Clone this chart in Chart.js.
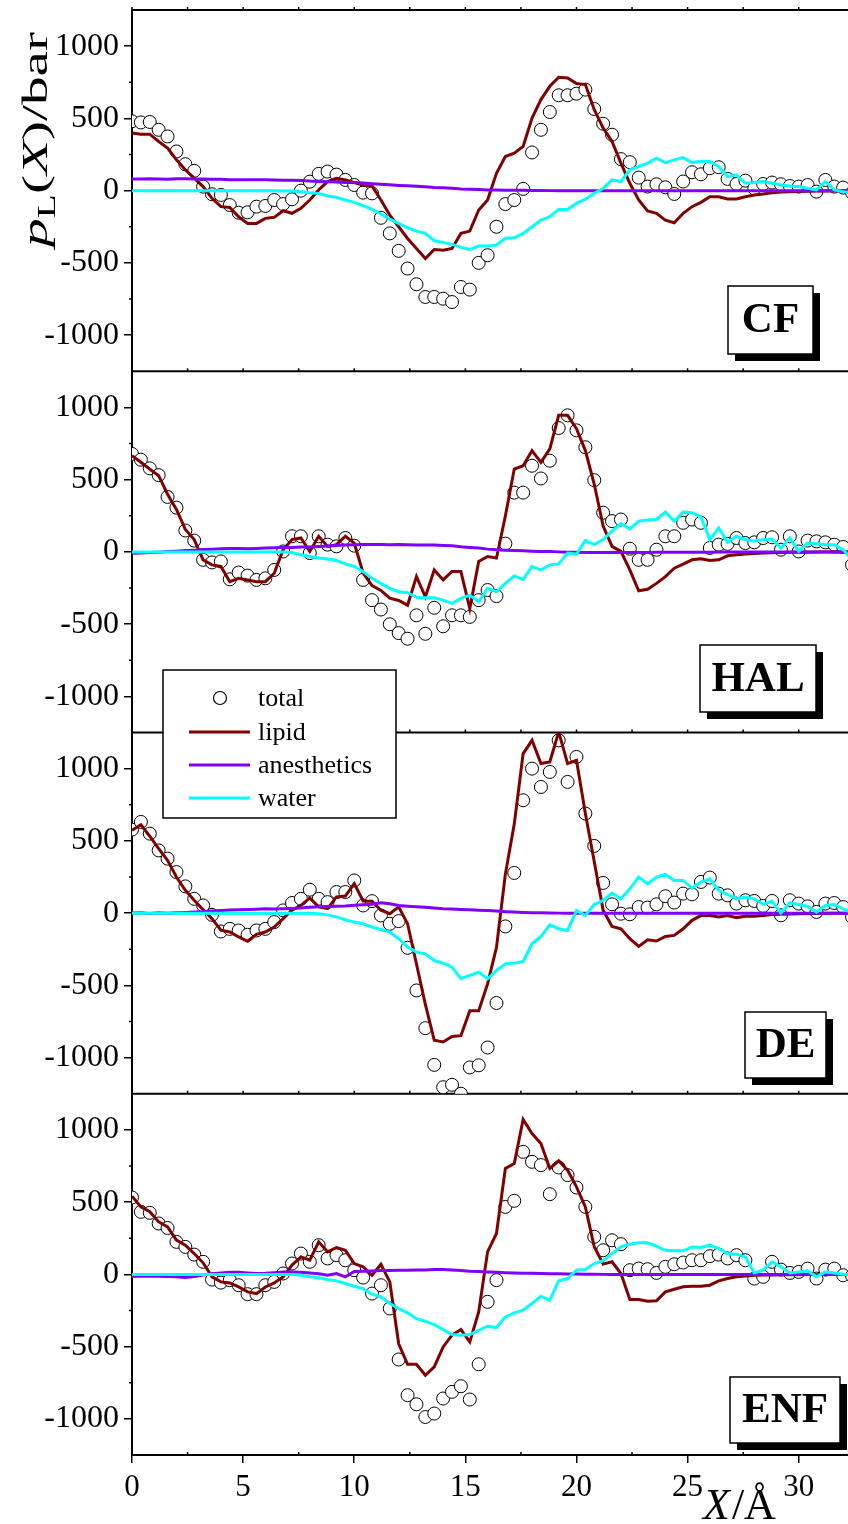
<!DOCTYPE html>
<html>
<head>
<meta charset="utf-8">
<title>Lateral pressure profiles</title>
<script src="https://cdn.jsdelivr.net/npm/chart.js@4.4.1/dist/chart.umd.min.js"></script>
<style>
html, body { margin: 0; padding: 0; background: #fff; overflow: hidden; }
#chart { display: block; }
</style>
</head>
<body>
<!-- a little wider than the page: Chart.js keeps room for the circle radius on the right -->
<canvas id="chart" width="856" height="1524"></canvas>
<script>
var serif = "'Liberation Serif', 'Times New Roman', serif";

// distance from bilayer centre, in Angstrom
var xs = [0,0.4,0.8,1.2,1.6,2,2.4,2.8,3.2,3.6,
  4,4.4,4.8,5.2,5.6,6,6.4,6.8,7.2,7.6,
  8,8.4,8.8,9.2,9.6,10,10.4,10.8,11.2,11.6,
  12,12.4,12.8,13.2,13.6,14,14.4,14.8,15.2,15.6,
  16,16.4,16.8,17.2,17.6,18,18.4,18.8,19.2,19.6,
  20,20.4,20.8,21.2,21.6,22,22.4,22.8,23.2,23.6,
  24,24.4,24.8,25.2,25.6,26,26.4,26.8,27.2,27.6,
  28,28.4,28.8,29.2,29.6,30,30.4,30.8,31.2,31.6,
  32,32.4];

var xTicks = [0,5,10,15,20,25,30];
var xMinor = [2.5,7.5,12.5,17.5,22.5,27.5];
var yTicks = [-1000,-500,0,500,1000];
var yMinor = [-750,-250,250,750];

var panels = ['CF','HAL','DE','ENF'];
var seriesNames = ['total','lipid','anesthetics','water'];

// CF
var cfTotal = [480,472,475,421,375,271,183,137,28,-25,
  -30,-100,-153,-150,-111,-106,-65,-93,-60,0,
  62,116,132,111,74,39,-14,-19,-188,-296,
  -417,-539,-648,-736,-736,-748,-771,-667,-685,-500,
  -447,-250,-93,-65,12,264,421,544,660,660,
  671,699,565,463,387,218,197,90,28,44,
  23,-23,63,127,113,155,162,81,46,69,
  16,46,56,44,32,28,39,-7,74,28,
  21,-15];
var cfLipid = [398,391,391,340,294,213,144,86,28,-53,
  -111,-116,-181,-227,-227,-192,-185,-139,-157,-123,
  -65,5,62,86,74,56,39,32,-65,-169,
  -250,-331,-400,-470,-407,-412,-400,-296,-280,-134,
  -65,120,236,259,306,502,630,722,785,780,
  741,734,560,433,340,190,51,-65,-141,-157,
  -204,-222,-157,-111,-81,-42,-42,-58,-58,-42,
  -30,-23,-14,-10,-8,-6,-4,-3,-2,-1,
  0,0];
var cfAnes = [80,80,82,80,78,82,82,80,80,78,
  78,76,76,76,76,76,74,72,72,70,
  66,64,62,60,56,56,52,48,44,40,
  36,33,30,26,22,20,16,12,10,7,
  5,4,3,2,2,1,1,0,0,0,
  0,0,0,0,0,0,0,0,0,0,
  0,0,0,0,0,0,0,0,0,0,
  0,0,0,0,0,0,0,0,0,0,
  0,0];
var cfWater = [0,0,0,0,0,0,0,0,0,0,
  0,0,0,0,0,0,0,-2,-2,-7,
  -14,-19,-37,-46,-65,-81,-104,-130,-162,-197,
  -227,-257,-280,-296,-347,-358,-372,-393,-407,-384,
  -384,-376,-330,-326,-296,-250,-204,-181,-130,-130,
  -88,-60,-19,16,74,63,143,167,190,225,
  194,213,229,194,204,201,167,97,109,51,
  56,63,51,39,32,28,16,5,63,5,
  -7,-15];

// HAL
var halTotal = [678,638,578,531,380,306,148,78,-55,-73,
  -66,-190,-143,-164,-194,-183,-125,3,108,108,
  -8,108,50,38,96,43,-194,-334,-399,-501,
  -562,-601,-439,-567,-387,-515,-439,-439,-450,-334,
  -264,-306,57,410,410,596,508,631,857,945,
  841,724,496,271,213,224,22,-55,-55,15,
  108,108,201,224,201,27,50,55,96,61,
  66,96,101,15,108,3,78,73,66,50,
  34,-90];
var halLipid = [666,620,573,527,399,294,155,85,-55,-90,
  -101,-206,-183,-194,-206,-206,-148,15,85,96,
  3,108,38,50,108,61,-146,-234,-267,-320,
  -336,-369,-171,-311,-125,-194,-136,-136,-392,-66,
  -32,-43,248,573,596,701,620,713,945,945,
  852,701,468,178,38,3,-125,-269,-259,-218,
  -171,-113,-85,-55,-48,-59,-55,-27,-20,-15,
  -11,-8,-6,-4,-3,-2,-2,-1,0,0,
  0,0];
var halAnes = [-9,-7,-5,-2,2,5,9,12,16,19,
  21,23,23,21,23,26,28,30,30,33,
  33,37,40,44,47,49,51,51,51,49,
  51,49,47,47,47,44,42,35,30,26,
  19,14,12,9,7,5,3,2,0,-2,
  -3,-4,-5,-5,-5,-5,-5,-4,-4,-3,
  -3,-3,-2,-2,-2,-2,-1,-1,-1,0,
  0,0,0,0,0,0,0,0,0,0,
  0,0];
var halWater = [0,0,0,0,0,0,0,0,0,0,
  0,0,0,0,0,0,0,0,-4,-20,
  -32,-43,-50,-59,-83,-101,-136,-183,-218,-252,
  -276,-283,-315,-318,-318,-334,-357,-322,-299,-346,
  -252,-276,-218,-166,-190,-101,-125,-90,-83,-8,
  -15,80,50,85,143,196,159,213,220,224,
  275,213,275,271,243,85,166,66,108,85,
  73,85,89,27,96,3,61,57,50,50,
  15,-55];

// DE
var deTotal = [578,631,550,434,377,284,185,99,53,-12,
  -127,-109,-120,-150,-120,-109,-62,19,70,99,
  162,99,76,146,146,226,53,83,-16,-74,
  -55,-240,-535,-796,-1050,-1205,-1188,-1250,-1068,-1053,
  -930,-622,-92,278,781,1000,873,977,1196,908,
  1081,689,465,209,61,-4,-8,42,38,61,
  117,73,135,130,216,246,135,123,66,89,
  84,50,84,-15,89,66,47,8,66,70,
  42,-27];
var deLipid = [573,612,532,446,365,250,158,89,24,-38,
  -118,-130,-165,-195,-147,-131,-96,-38,20,54,
  105,43,31,112,118,204,84,82,20,-4,
  43,-73,-352,-632,-880,-892,-854,-848,-675,-675,
  -490,-237,270,616,1104,1196,1035,1046,1254,1035,
  1058,689,355,20,-92,-108,-177,-230,-184,-193,
  -161,-154,-108,-50,-17,-17,-27,-17,-31,-22,
  -22,-17,-10,-8,-6,-4,-3,-2,-1,0,
  0,0];
var deAnes = [0,2,-2,2,0,2,5,7,10,14,
  18,21,23,25,27,30,28,30,32,35,
  40,44,46,48,50,54,58,62,72,65,
  53,48,44,40,35,30,28,25,23,20,
  18,14,10,7,5,3,2,1,0,0,
  0,0,0,0,0,0,0,0,0,0,
  0,0,0,0,0,0,0,0,0,0,
  0,0,0,0,0,0,0,0,0,0,
  0,0];
var deWater = [0,0,0,0,0,0,0,0,0,0,
  0,0,0,0,0,0,0,0,0,0,
  0,-5,-12,-26,-46,-62,-74,-97,-113,-131,
  -177,-235,-270,-282,-328,-346,-374,-454,-431,-408,
  -454,-397,-351,-346,-335,-212,-161,-81,-108,-120,
  18,-16,60,88,138,99,168,249,203,249,
  268,226,226,173,215,238,157,129,99,111,
  99,60,83,0,72,60,46,7,53,60,
  30,0];

// ENF
var enfTotal = [532,433,426,352,321,225,190,137,87,-36,
  -57,-40,-75,-137,-137,-75,-52,6,75,144,
  87,202,110,133,98,29,-22,-133,-75,-236,
  -589,-836,-899,-987,-963,-859,-813,-774,-866,-622,
  -190,-40,467,509,848,779,756,555,740,687,
  601,467,260,167,236,209,29,40,36,10,
  52,70,82,98,98,126,137,110,133,98,
  -29,-17,87,33,10,17,40,-29,33,40,
  -6,-10];
var enfLipid = [541,467,433,363,329,237,202,144,80,-17,
  -52,-59,-87,-121,-133,-87,-59,-17,64,121,
  98,225,156,186,167,75,52,-6,70,-52,
  -480,-622,-622,-698,-640,-502,-421,-382,-467,-260,
  156,283,733,767,1072,975,906,733,786,721,
  606,467,191,71,87,6,-174,-174,-186,-183,
  -121,-103,-86,-82,-82,-75,-45,-29,-17,-12,
  -6,-5,-4,-3,-2,-2,-1,-1,0,0,
  0,0];
var enfAnes = [-13,-13,-11,-13,-15,-17,-22,-15,-4,4,
  10,14,14,10,6,8,12,17,17,14,
  10,4,-6,6,-17,20,22,24,26,27,
  28,29,30,31,33,33,30,26,22,20,
  17,14,12,10,8,7,6,5,4,3,
  2,1,1,0,0,0,0,0,0,0,
  0,0,0,0,0,0,0,0,0,0,
  0,0,0,0,0,0,0,0,0,0,
  0,0];
var enfWater = [0,0,0,0,0,0,0,0,0,0,
  0,0,0,0,0,0,0,0,0,-6,
  -17,-24,-36,-45,-63,-82,-98,-137,-156,-202,
  -236,-266,-306,-324,-347,-382,-416,-421,-416,-387,
  -359,-368,-294,-266,-248,-202,-151,-179,-45,-29,
  29,33,75,94,144,190,209,218,218,195,
  167,163,163,190,186,202,179,144,140,121,
  10,29,87,52,10,17,24,-17,17,10,
  1,-5];

var panelSeries = {
  CF: [cfTotal, cfLipid, cfAnes, cfWater],
  HAL: [halTotal, halLipid, halAnes, halWater],
  DE: [deTotal, deLipid, deAnes, deWater],
  ENF: [enfTotal, enfLipid, enfAnes, enfWater]
};

var lineColors = ['#000000', '#800000', '#8000ff', '#00ffff'];

// boxes for the panel names [left, top, right, bottom]
var nameBoxes = {
  CF: [728, 286, 813, 354],
  HAL: [700, 645, 816, 712],
  DE: [745, 1012, 826, 1078],
  ENF: [730, 1377, 840, 1443]
};
var legendBox = [163, 670, 396, 818];

function toPoints(ys) {
  return xs.map(function (x, i) { return { x: x, y: ys[i] }; });
}

var datasets = [];
panels.forEach(function (p) {
  var s = panelSeries[p];
  datasets.push({
    label: seriesNames[0],
    data: toPoints(s[0]),
    yAxisID: 'y' + p,
    showLine: false,
    pointRadius: 6.5,
    pointHoverRadius: 6.5,
    pointBackgroundColor: '#fff',
    pointBorderColor: '#000',
    pointBorderWidth: 1,
    order: 3
  });
  for (var k = 1; k < 4; k++) {
    datasets.push({
      label: seriesNames[k],
      data: toPoints(s[k]),
      yAxisID: 'y' + p,
      borderColor: lineColors[k],
      borderWidth: 3,
      pointRadius: 0,
      tension: 0,
      fill: false,
      order: 3 - k
    });
  }
});

function yScale() {
  return {
    type: 'linear',
    position: 'left',
    stack: 'panels',
    stackWeight: 1,
    min: -1250,
    max: 1250,
    afterBuildTicks: function (s) { s.ticks = yTicks.map(function (v) { return { value: v }; }); },
    afterFit: function (s) { s.width = 132; s.paddingTop = 0; s.paddingBottom = 0; },
    ticks: {
      color: '#000',
      font: { family: serif, size: 32 },
      padding: 5,
      autoSkip: false,
      callback: function (v) { return String(v); }
    },
    grid: { drawOnChartArea: false, tickLength: 8, color: '#000', lineWidth: 1.5 },
    border: { color: '#000', width: 2 }
  };
}

var scales = {
  x: {
    type: 'linear',
    position: 'bottom',
    min: 0,
    max: 32.24,
    afterBuildTicks: function (s) { s.ticks = xTicks.map(function (v) { return { value: v }; }); },
    afterFit: function (s) { s.height = 69; s.paddingLeft = 0; s.paddingRight = 0; },
    ticks: { color: '#000', font: { family: serif, size: 31 }, padding: 6, maxRotation: 0, autoSkip: false },
    grid: { drawOnChartArea: false, tickLength: 8, color: '#000', lineWidth: 1.5 },
    border: { color: '#000', width: 2 }
  }
};
// stacked axes: the last one added ends up on top
for (var i = panels.length - 1; i >= 0; i--) {
  scales['y' + panels[i]] = yScale();
}

function seg(ctx, x1, y1, x2, y2) {
  ctx.beginPath();
  ctx.moveTo(x1, y1);
  ctx.lineTo(x2, y2);
  ctx.stroke();
}

var decor = {
  id: 'decor',
  beforeDatasetsDraw: function (chart) {
    var ctx = chart.ctx, a = chart.chartArea, sx = chart.scales.x;
    ctx.save();
    ctx.strokeStyle = '#000';
    panels.forEach(function (p) {
      var s = chart.scales['y' + p];
      ctx.lineWidth = 2;
      seg(ctx, a.left, s.top, a.right, s.top);
      ctx.lineWidth = 1.5;
      yMinor.forEach(function (v) {
        var y = s.getPixelForValue(v);
        seg(ctx, a.left - 3, y, a.left, y);
      });
      xTicks.concat(xMinor).forEach(function (v) {
        var x = sx.getPixelForValue(v);
        seg(ctx, x, s.top - 3, x, s.top);
      });
    });
    xMinor.forEach(function (v) {
      var x = sx.getPixelForValue(v);
      seg(ctx, x, a.bottom - 3, x, a.bottom);
    });
    ctx.restore();
  },
  afterDraw: function (chart) {
    var ctx = chart.ctx;
    ctx.save();

    // panel names with drop shadow
    panels.forEach(function (p) {
      var b = nameBoxes[p];
      var w = b[2] - b[0], h = b[3] - b[1];
      ctx.fillStyle = '#000';
      ctx.fillRect(b[0] + 7, b[1] + 7, w, h);
      ctx.fillStyle = '#fff';
      ctx.fillRect(b[0], b[1], w, h);
      ctx.strokeStyle = '#000';
      ctx.lineWidth = 1.5;
      ctx.strokeRect(b[0], b[1], w, h);
      ctx.fillStyle = '#000';
      ctx.font = 'bold 43px ' + serif;
      ctx.textAlign = 'center';
      ctx.textBaseline = 'middle';
      ctx.fillText(p, b[0] + w / 2, b[1] + h / 2 + 1);
    });

    // legend
    var L = legendBox;
    ctx.fillStyle = '#fff';
    ctx.fillRect(L[0], L[1], L[2] - L[0], L[3] - L[1]);
    ctx.strokeStyle = '#000';
    ctx.lineWidth = 1.5;
    ctx.strokeRect(L[0], L[1], L[2] - L[0], L[3] - L[1]);
    var rowY = [698, 732, 765, 798];
    ctx.font = '26px ' + serif;
    ctx.textAlign = 'left';
    ctx.textBaseline = 'alphabetic';
    seriesNames.forEach(function (name, k) {
      var y = rowY[k];
      if (k === 0) {
        ctx.beginPath();
        ctx.arc(220, y, 6.5, 0, Math.PI * 2);
        ctx.fillStyle = '#fff';
        ctx.fill();
        ctx.lineWidth = 1.2;
        ctx.strokeStyle = '#000';
        ctx.stroke();
      } else {
        ctx.strokeStyle = lineColors[k];
        ctx.lineWidth = 3;
        seg(ctx, 189, y, 250, y);
      }
      ctx.fillStyle = '#000';
      ctx.fillText(name, 258, y + 8);
    });

    // y title p_L(X)/bar, rotated
    var parts = [
      { t: 'p', f: 'italic 36px ', dy: 0 },
      { t: 'L', f: '25px ', dy: 8 },
      { t: '(', f: '36px ', dy: 0 },
      { t: 'X', f: 'italic 36px ', dy: 0 },
      { t: ')/bar', f: '36px ', dy: 0 }
    ];
    var total = 0;
    parts.forEach(function (q) { ctx.font = q.f + serif; q.w = ctx.measureText(q.t).width; total += q.w; });
    ctx.translate(47, 247);
    ctx.rotate(-Math.PI / 2);
    ctx.scale(215 / total, 1);
    ctx.fillStyle = '#000';
    ctx.textAlign = 'left';
    ctx.textBaseline = 'alphabetic';
    var px = 0;
    parts.forEach(function (q) {
      ctx.font = q.f + serif;
      ctx.fillText(q.t, px, q.dy);
      px += q.w;
    });
    ctx.setTransform(1, 0, 0, 1, 0, 0);

    // x title X/Å
    ctx.fillStyle = '#000';
    ctx.font = 'italic 44px ' + serif;
    ctx.fillText('X', 703, 1519);
    var wX = ctx.measureText('X').width;
    ctx.font = '44px ' + serif;
    ctx.fillText('/Å', 703 + wX + 2, 1519);

    ctx.restore();
  }
};

new Chart(document.getElementById('chart'), {
  type: 'line',
  data: { datasets: datasets },
  options: {
    responsive: false,
    animation: false,
    devicePixelRatio: 1,
    events: [],
    layout: { padding: { top: 10, left: 0, right: 0, bottom: 0 } },
    plugins: { legend: { display: false }, tooltip: { enabled: false } },
    scales: scales
  },
  plugins: [decor]
});
</script>
</body>
</html>
